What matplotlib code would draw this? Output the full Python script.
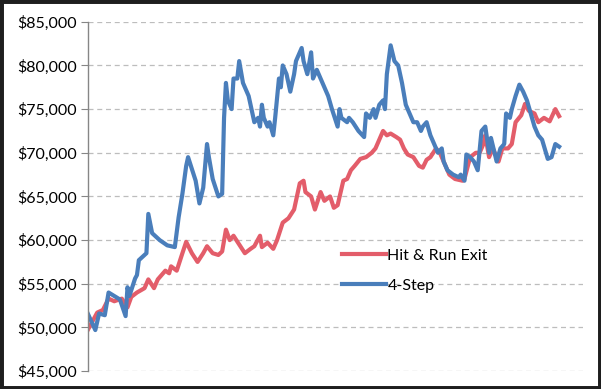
import numpy as np
import matplotlib.pyplot as plt
from matplotlib.patches import Rectangle
from matplotlib.ticker import FuncFormatter

# trading day index and equity values
day_step = [0, 4, 6, 9, 11, 17, 20, 21, 22, 25, 26, 27, 31, 32, 34, 38, 42, 46, 48, 50,
            52, 53, 57, 59, 61, 63, 64, 66, 69, 71, 72, 73, 74, 76, 77, 79, 80, 82, 84, 85,
            87, 88, 90, 91, 92, 93, 95, 96, 98, 99, 101, 102, 103, 105, 107, 109, 110, 113, 114, 116,
            118, 119, 121, 123, 125, 127, 129, 132, 133, 134, 137, 138, 140, 143, 146, 147, 149, 151, 152, 154,
            156, 157, 158, 160, 162, 164, 166, 168, 170, 172, 174, 176, 177, 179, 181, 183, 185, 187, 188, 190,
            193, 196, 197, 199, 200, 202, 204, 206, 208, 210, 212, 213, 216, 218, 220, 221, 223, 224, 226, 228,
            230, 232, 234, 236, 238, 240, 243, 245, 247, 249]
step4 = [51600, 49700, 51600, 51400, 54000, 53200, 51300, 54600, 53600, 55600, 56000, 57700, 58500, 63000, 60800, 60000, 59400, 59200, 62600, 65300,
         68500, 69500, 66800, 64200, 66000, 71000, 69500, 67000, 65000, 65300, 74000, 78000, 76000, 75000, 78500, 78500, 80500, 78000, 77000, 76500,
         74500, 73500, 74000, 73000, 75500, 74000, 73000, 73500, 72000, 74000, 78500, 77500, 80000, 79000, 77000, 79000, 80500, 82000, 80500, 79000,
         81500, 78500, 79500, 78500, 77500, 76500, 75000, 73000, 75000, 74000, 73500, 74000, 73500, 72500, 71800, 74500, 74000, 75000, 74000, 75500,
         76000, 75000, 79000, 82300, 80500, 80000, 78000, 75500, 74500, 73500, 73500, 72500, 73000, 73500, 72000, 71000, 70000, 70500, 69000, 68000,
         67500, 67200, 67500, 66800, 69800, 69500, 69000, 68000, 72500, 73000, 70000, 71700, 69000, 70500, 71000, 74500, 74000, 75000, 76500, 77800,
         77000, 76000, 74500, 73000, 72000, 71500, 69300, 69500, 71000, 70700]

day_hit = [0, 2, 5, 8, 11, 14, 18, 21, 23, 26, 30, 32, 35, 37, 41, 43, 44, 47, 50, 52,
           55, 58, 61, 63, 66, 69, 71, 73, 75, 77, 80, 83, 86, 88, 91, 92, 95, 98, 100, 103,
           106, 109, 112, 114, 115, 118, 120, 123, 125, 128, 130, 132, 135, 137, 139, 141, 144, 147, 150, 152,
           154, 156, 158, 160, 163, 165, 167, 169, 172, 175, 177, 179, 181, 184, 186, 189, 191, 194, 198, 199,
           202, 205, 207, 209, 210, 212, 214, 217, 219, 222, 224, 226, 229, 231, 233, 236, 238, 241, 244, 247,
           249]
hit_run = [49700, 50500, 51700, 52000, 53300, 53000, 53300, 52300, 53500, 54000, 54500, 55500, 54500, 55500, 56500, 56200, 57000, 56500, 58500, 59800,
           58500, 57500, 58500, 59300, 58500, 58300, 58700, 61200, 60000, 60500, 59500, 58500, 59000, 59300, 60500, 59200, 59700, 59000, 60000, 62000,
           62500, 63500, 66500, 66800, 65500, 65000, 63500, 65500, 64500, 65000, 63700, 64000, 66800, 67000, 68000, 68500, 69300, 69500, 70000, 70500,
           71500, 72500, 72000, 72200, 71800, 71500, 70500, 69800, 69500, 68500, 68300, 69200, 69500, 70500, 70000, 68500, 67500, 67000, 66800, 67000,
           69500, 70000, 70000, 71000, 72000, 69500, 70500, 69000, 70500, 70500, 71000, 73500, 74300, 75600, 74800, 74500, 73500, 74000, 73600, 75000,
           74200]

yticks = np.arange(45000, 85001, 5000)

fig = plt.figure(figsize=(6.01, 3.89), dpi=100)
plt.rcParams['font.family'] = ['Lato', 'DejaVu Sans']
ax = fig.add_axes([0.146, 0.046, 0.824, 0.898])

ax.plot(day_hit, hit_run, color='#E35D6A', lw=3.0, label='Hit & Run Exit', solid_joinstyle='round')
ax.plot(day_step, step4, color='#4A7EBB', lw=3.0, label='4-Step', solid_joinstyle='round')

ax.set_ylim(45000, 85000)
ax.set_xlim(0, 261.6)
ax.set_yticks(yticks)
ax.yaxis.set_major_formatter(FuncFormatter(lambda v, p: '${:,.0f}'.format(v)))
ax.set_xticks([])
ax.tick_params(axis='y', direction='out', length=5, color='#868686', labelsize=11.5, pad=3)
ax.grid(axis='y', color='#BDBDBD', ls=(0, (4, 3)), lw=0.9)
ax.set_axisbelow(True)
for s in ['top', 'right', 'bottom']:
    ax.spines[s].set_visible(False)
ax.spines['left'].set_color('#868686')
ax.spines['left'].set_linewidth(1.0)

leg = ax.legend(loc='upper left', bbox_to_anchor=(0.484, 0.392), frameon=False,
                fontsize=11.5, handlelength=2.75, handletextpad=0.1, labelspacing=1.0)

# dark frame round the picture
fig.patches.append(Rectangle((0, 0), 1, 1, transform=fig.transFigure, fill=False,
                             edgecolor='#1E1E1E', lw=5))

fig.savefig('out.png', dpi=100)
